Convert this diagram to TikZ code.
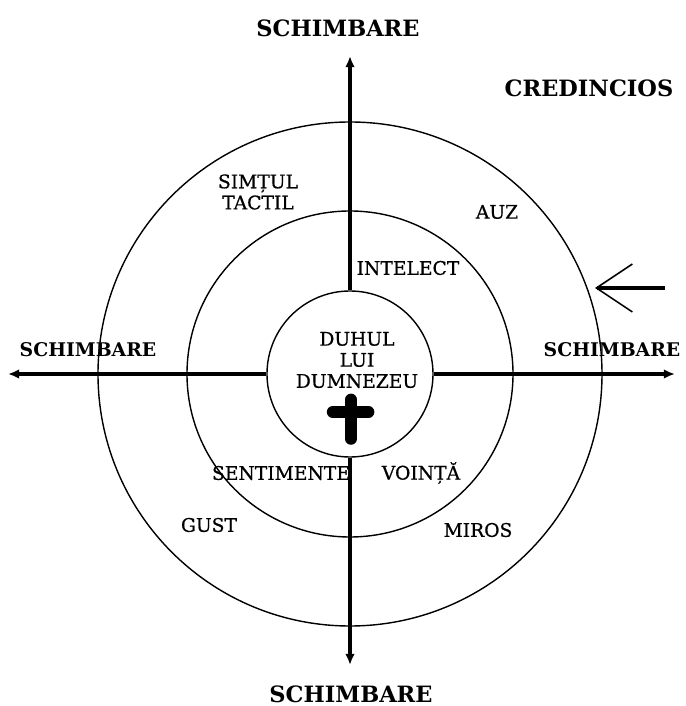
\documentclass[tikz,border=0pt]{standalone}
\usepackage{fontspec}
\setmainfont{DejaVu Serif}
\newfontfamily\corp[FakeBold=0.7]{DejaVu Serif}
\usepackage{tikz}
\usetikzlibrary{arrows.meta,positioning}
\tikzset{
  cerc/.style={circle,draw,line width=1pt,inner sep=0pt},
  ax/.style={line width=2.2pt,-{Latex[length=2.8mm,width=2.4mm]}},
  titlu/.style={font=\fontsize{16}{18}\selectfont\bfseries,inner sep=0pt},
  scris/.style={font=\corp\fontsize{13.3}{15}\selectfont,align=center,inner sep=0pt},
  sageata/.style={line width=3.4pt,-{Straight Barb[length=9mm,width=12mm,line width=1.1pt]}},
  cruce/.style={line width=8.5pt,line cap=round},
}

\begin{document}
\begin{tikzpicture}
  \useasboundingbox (-8.75,-8.3) rectangle (8.375,9.35);
  % cercurile
  \node[cerc,minimum size=12.6cm] (exterior) at (0,0) {};
  \node[cerc,minimum size=8.15cm] (mijloc) at (0,0) {};
  \node[cerc,minimum size=4.15cm] (interior) at (0,0) {};
  % axele
  \coordinate (sus) at (0,7.95);
  \coordinate (jos) at (0,-7.275);
  \coordinate (stanga) at (-8.55,0);
  \coordinate (dreapta) at (8.125,0);
  \draw[ax] (interior.north) -- (sus);
  \draw[ax] (interior.south) -- (jos);
  \draw[ax] (interior.west) -- (stanga);
  \draw[ax] (interior.east) -- (dreapta);
  % crucea
  \draw[cruce] (0.025,-0.64) -- (0.025,-1.62);
  \draw[cruce] (-0.43,-0.95) -- (0.46,-0.95);
  % sageata credinciosului
  \coordinate (coada) at (7.875,2.15);
  \coordinate (varf) at (6.125,2.15);
  \draw[sageata] (coada) -- (varf);
  % texte
  \node[titlu] (tsus) at (-0.3,8.65) {SCHIMBARE};
  \node[titlu] (tjos) at (0.025,-8.0) {SCHIMBARE};
  \node[titlu,font=\fontsize{13.4}{15}\selectfont\bfseries] (tstanga) at (-6.55,0.6) {SCHIMBARE};
  \node[titlu,font=\fontsize{13.4}{15}\selectfont\bfseries] (tdreapta) at (6.55,0.6) {SCHIMBARE};
  \node[titlu] (credincios) at (5.975,7.15) {CREDINCIOS};
  \node[scris] (duhul) at (0.175,0.35) {DUHUL\\LUI\\DUMNEZEU};
  \node[scris] (intelect) at (1.45,2.65) {INTELECT};
  \node[scris] (tactil) at (-2.3,4.55) {SIMȚUL\\TACTIL};
  \node[scris] (auz) at (3.675,4.05) {AUZ};
  \node[scris] (sentimente) at (-1.725,-2.475) {SENTIMENTE};
  \node[scris] (vointa) at (1.775,-2.475) {VOINȚĂ};
  \node[scris] (gust) at (-3.525,-3.775) {GUST};
  \node[scris] (miros) at (3.2,-3.9) {MIROS};
\end{tikzpicture}
\end{document}
